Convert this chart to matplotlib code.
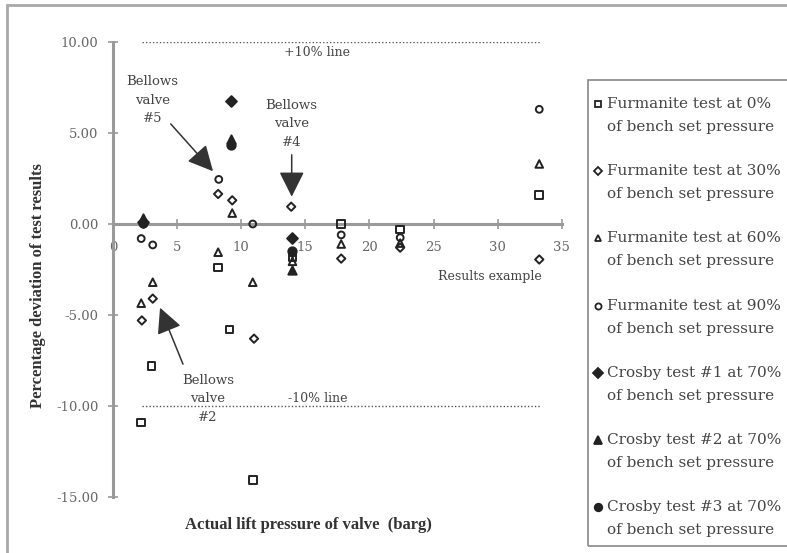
import matplotlib
matplotlib.use("Agg")
import matplotlib.pyplot as plt
from matplotlib.patches import Rectangle
from matplotlib.lines import Line2D

plt.rcParams["axes.unicode_minus"] = False

# Furmanite tests (hollow markers)
f0_x = [2.2, 3.0, 8.2, 9.1, 10.9, 14.0, 17.8, 22.4, 33.25]
f0_y = [-10.9, -7.8, -2.4, -5.8, -14.05, -1.8, 0.0, -0.3, 1.6]
f30_x = [2.25, 3.1, 8.2, 9.3, 11.0, 13.9, 17.8, 22.4, 33.25]
f30_y = [-5.3, -4.1, 1.65, 1.3, -6.3, 0.95, -1.9, -1.3, -1.95]
f60_x = [2.2, 3.1, 8.2, 9.3, 10.9, 14.0, 17.8, 22.4, 33.25]
f60_y = [-4.35, -3.2, -1.55, 0.6, -3.2, -2.05, -1.1, -1.05, 3.3]
f90_x = [2.2, 3.1, 8.25, 10.9, 14.0, 17.8, 22.4, 33.25]
f90_y = [-0.8, -1.15, 2.45, 0.0, -1.6, -0.6, -0.75, 6.3]

# Crosby tests at 70% (filled markers)
c1_x = [2.35, 9.2, 14.0]
c1_y = [0.1, 6.75, -0.75]
c2_x = [2.35, 9.2, 14.0]
c2_y = [0.35, 4.65, -2.55]
c3_x = [2.35, 9.2, 14.0]
c3_y = [0.05, 4.35, -1.5]

labels = [
    "Furmanite test at 0%",
    "Furmanite test at 30%",
    "Furmanite test at 60%",
    "Furmanite test at 90%",
    "Crosby test #1 at 70%",
    "Crosby test #2 at 70%",
    "Crosby test #3 at 70%",
]
second_line = "of bench set pressure"

x_ticks = [0, 5, 10, 15, 20, 25, 30, 35]
y_ticks = [-15, -10, -5, 0, 5, 10]

ink = "#222222"
axis_col = "#9a9a9a"
serif = "DejaVu Serif"

fig = plt.figure(figsize=(7.87, 5.53), dpi=100)
ax = fig.add_axes([113 / 787, 56 / 553, 448.7 / 787, 455 / 553])

series = [
    (f0_x, f0_y, "s", "none", 30),
    (f30_x, f30_y, "D", "none", 18),
    (f60_x, f60_y, "^", "none", 30),
    (f90_x, f90_y, "o", "none", 24),
    (c1_x, c1_y, "D", ink, 30),
    (c2_x, c2_y, "^", ink, 36),
    (c3_x, c3_y, "o", ink, 36),
]
for (xs, ys, m, fc, s), lab in zip(series, labels):
    ax.scatter(xs, ys, marker=m, s=s, facecolors=fc, edgecolors=ink,
               linewidths=1.4, zorder=3, clip_on=False, label=lab)

# +/-10% limit lines
ax.plot([2.26, 33.3], [10, 10], color="#555555", lw=1, ls=(0, (1, 1.5)))
ax.plot([2.26, 33.3], [-10, -10], color="#555555", lw=1, ls=(0, (1, 1.5)))
ax.text(15.9, 9.45, "+10% line", ha="center", va="center", fontsize=9,
        family=serif, color="#444444")
ax.text(16.0, -9.6, "-10% line", ha="center", va="center", fontsize=9,
        family=serif, color="#444444")
ax.text(29.4, -2.87, "Results example", ha="center", va="center", fontsize=9,
        family=serif, color="#444444")

# bellows valve annotations
arrow = dict(arrowstyle="-|>,head_length=1.3,head_width=0.65", color="#333333",
             lw=1.1, mutation_scale=12, shrinkA=0, shrinkB=0)
ax.text(3.08, 6.8, "Bellows\nvalve\n#5", ha="center", va="center", fontsize=9.5,
        family=serif, color="#444444", linespacing=1.55)
ax.annotate("", xy=(7.8, 2.9), xytext=(4.5, 5.5), arrowprops=arrow)
ax.text(13.94, 5.52, "Bellows\nvalve\n#4", ha="center", va="center", fontsize=9.5,
        family=serif, color="#444444", linespacing=1.55)
ax.annotate("", xy=(13.94, 1.5), xytext=(13.94, 3.8), arrowprops=arrow)
ax.text(7.4, -9.6, "Bellows\nvalve\n#2", ha="center", va="center", fontsize=9.5,
        family=serif, color="#444444", linespacing=1.55)
ax.annotate("", xy=(3.67, -4.6), xytext=(5.46, -7.7), arrowprops=arrow)

# axes styling
ax.set_xlim(0, 35)
ax.set_ylim(-15, 10)
for side in ["top", "right"]:
    ax.spines[side].set_visible(False)
ax.spines["bottom"].set_position(("data", 0))
for side in ["left", "bottom"]:
    ax.spines[side].set_color(axis_col)
    ax.spines[side].set_linewidth(2.2)
ax.set_xticks(x_ticks)
ax.set_yticks(y_ticks)
ax.set_yticklabels([f"{v:.2f}" for v in y_ticks])
ax.tick_params(axis="x", direction="inout", length=7, width=1.2, color=axis_col,
               pad=9, labelsize=9.5, labelcolor="#666666")
ax.tick_params(axis="y", direction="inout", length=7, width=1.2, color=axis_col,
               pad=7, labelsize=9.5, labelcolor="#666666")
for t in ax.get_xticklabels() + ax.get_yticklabels():
    t.set_family(serif)

fig.text(38 / 787, 1 - 286 / 553, "Percentage deviation of test results",
         rotation=90, ha="center", va="center", fontsize=12,
         family="Liberation Serif", weight="bold", color="#333333")
fig.text(308 / 787, 1 - 525 / 553, "Actual lift pressure of valve  (barg)",
         ha="center", va="center", fontsize=12,
         family="Liberation Serif", weight="bold", color="#333333")

# outer chart frame
fig.add_artist(Rectangle((7 / 787, -0.1), 1.2, 1.1 - 5 / 553, fill=False,
                         edgecolor="#a8a8a8", lw=2, transform=fig.transFigure))

# legend box, drawn by hand so the marker sits on the first line
fig.add_artist(Rectangle((588 / 787, 7 / 553), 0.3, 466 / 553, fill=False,
                         edgecolor="#888888", lw=1.2, transform=fig.transFigure))
for i, ((xs, ys, m, fc, s), lab) in enumerate(zip(series, labels)):
    y1 = 1 - (104 + 67.2 * i) / 553
    y2 = y1 - 23 / 553
    fig.add_artist(Line2D([598 / 787], [y1], marker=m, ms=s ** 0.5 * 0.9,
                          mfc=fc, mec=ink, mew=1.3, ls="none",
                          transform=fig.transFigure))
    fig.text(607 / 787, y1, lab, ha="left", va="center", fontsize=11,
             family=serif, color="#444444")
    fig.text(607 / 787, y2, second_line, ha="left", va="center", fontsize=11,
             family=serif, color="#444444")

fig.savefig("out.png", dpi=100)
